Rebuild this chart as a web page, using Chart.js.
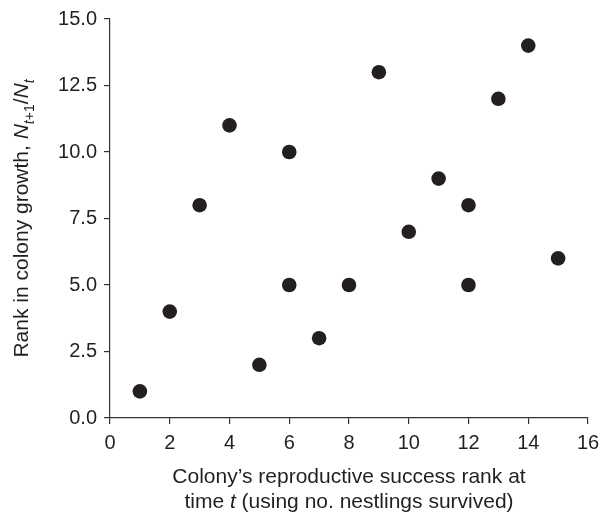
<!DOCTYPE html>
<html>
<head>
<meta charset="utf-8">
<script src="https://cdn.jsdelivr.net/npm/chart.js@4.4.1/dist/chart.umd.min.js"></script>
<style>
  html, body { margin: 0; padding: 0; background: #fff; }
  #wrap { width: 610px; height: 514px; }
</style>
</head>
<body>
<div id="wrap"><canvas id="scatter" width="610" height="514"></canvas></div>
<script>
// colony reproductive success rank (x) vs rank in colony growth (y)
const successRank = [1, 2, 3, 4, 5, 6, 6, 7, 8, 9, 10, 11, 12, 12, 13, 14, 15];
const growthRank  = [1, 4, 8, 11, 2, 10, 5, 3, 5, 13, 7, 9, 8, 5, 12, 14, 6];
const xTicks = [0, 2, 4, 6, 8, 10, 12, 14, 16];
const yTicks = [0, 2.5, 5, 7.5, 10, 12.5, 15];

const INK = '#231f20';
const FONT = '"Liberation Sans", Arial, Helvetica, sans-serif';
const TITLE_FS = 21;
const TICK_FS = 20;

// draws a run of text pieces (normal / italic / subscript) centred on x
function drawRich(ctx, parts, x, y) {
  const fontFor = p => (p.italic ? 'italic ' : '') + (p.sub ? Math.round(TITLE_FS * 0.68) : TITLE_FS) + 'px ' + FONT;
  let total = 0;
  parts.forEach(p => { ctx.font = fontFor(p); p.w = ctx.measureText(p.text).width; total += p.w; });
  let cx = x - total / 2;
  parts.forEach(p => {
    ctx.font = fontFor(p);
    ctx.fillText(p.text, cx, p.sub ? y + TITLE_FS * 0.28 : y);
    cx += p.w;
  });
}

const axisTitles = {
  id: 'axisTitles',
  afterDraw(chart) {
    const { ctx, chartArea } = chart;
    ctx.save();
    ctx.fillStyle = INK;
    ctx.textAlign = 'left';
    ctx.textBaseline = 'alphabetic';
    const mid = (chartArea.left + chartArea.right) / 2;
    drawRich(ctx, [{ text: 'Colony\u2019s reproductive success rank at' }], mid, 483);
    drawRich(ctx, [
      { text: 'time ' },
      { text: 't', italic: true },
      { text: ' (using no. nestlings survived)' }
    ], mid, 508);

    ctx.translate(28, (chartArea.top + chartArea.bottom) / 2);
    ctx.rotate(-Math.PI / 2);
    drawRich(ctx, [
      { text: 'Rank in colony growth, ' },
      { text: 'N', italic: true },
      { text: 't', italic: true, sub: true },
      { text: '+1', sub: true },
      { text: '/' },
      { text: 'N', italic: true },
      { text: 't', italic: true, sub: true }
    ], 0, 0);
    ctx.restore();
  }
};

const axisStyle = {
  grid: { display: true, drawOnChartArea: false, drawTicks: true, tickLength: 6, color: '#333', lineWidth: 1.2 },
  border: { display: true, color: '#333', width: 1.2 },
};

new Chart(document.getElementById('scatter'), {
  type: 'scatter',
  data: {
    datasets: [{
      data: successRank.map((v, i) => ({ x: v, y: growthRank[i] })),
      pointRadius: 7.3,
      pointHoverRadius: 7.3,
      backgroundColor: INK,
      borderWidth: 0
    }]
  },
  options: {
    responsive: false,
    animation: false,
    layout: { padding: { top: 16, right: 22, left: 0, bottom: 0 } },
    plugins: { legend: { display: false }, tooltip: { enabled: false } },
    scales: {
      x: {
        type: 'linear',
        min: xTicks[0],
        max: xTicks[xTicks.length - 1],
        afterFit: s => { s.height = 96; },
        afterBuildTicks: s => { s.ticks = xTicks.map(v => ({ value: v })); },
        ticks: { color: INK, padding: 7, font: { family: FONT, size: TICK_FS }, maxRotation: 0, callback: v => String(v) },
        ...axisStyle
      },
      y: {
        type: 'linear',
        min: yTicks[0],
        max: yTicks[yTicks.length - 1],
        afterFit: s => { s.width = 110; },
        afterBuildTicks: s => { s.ticks = yTicks.map(v => ({ value: v })); },
        ticks: { color: INK, padding: 7, font: { family: FONT, size: TICK_FS }, callback: v => v.toFixed(1) },
        ...axisStyle
      }
    }
  },
  plugins: [axisTitles]
});
</script>
</body>
</html>
